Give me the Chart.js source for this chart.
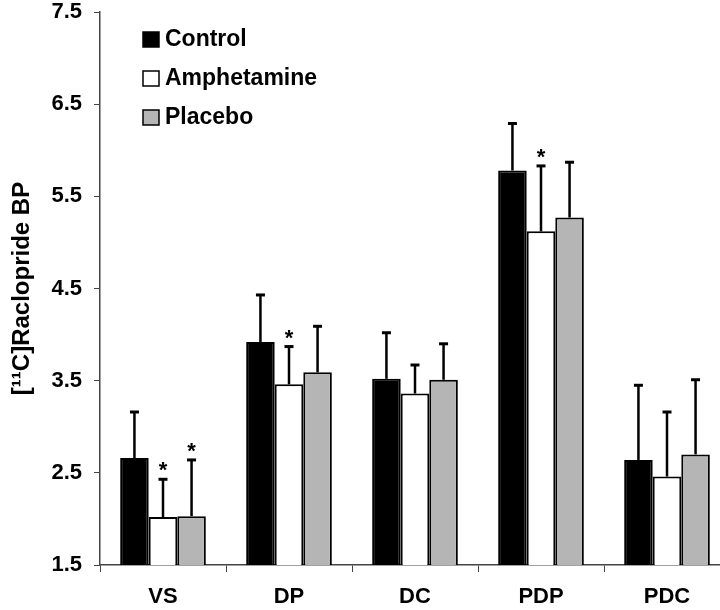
<!DOCTYPE html>
<html>
<head>
<meta charset="utf-8">
<script src="https://cdn.jsdelivr.net/npm/chart.js@4"></script>
<style>
  html, body { margin:0; padding:0; background:#fff; overflow:hidden; }
  #wrap { width:720px; height:610px; overflow:hidden; }
</style>
</head>
<body>
<div id="wrap"><canvas id="chart" width="730" height="610"></canvas></div>
<script>
// datos
const regions = ['VS', 'DP', 'DC', 'PDP', 'PDC'];
const control = [2.66, 3.92, 3.52, 5.78, 2.64];
const controlErr = [0.50, 0.51, 0.50, 0.51, 0.81];
const amphetamine = [2.02, 3.46, 3.36, 5.12, 2.46];
const amphetamineErr = [0.41, 0.41, 0.31, 0.71, 0.70];
const placebo = [2.03, 3.59, 3.51, 5.27, 2.70];
const placeboErr = [0.61, 0.50, 0.39, 0.60, 0.81];
// asteriscos (p < 0.05)
const amphetamineSig = [true, true, false, true, false];
const placeboSig = [true, false, false, false, false];
const yTicks = [1.5, 2.5, 3.5, 4.5, 5.5, 6.5, 7.5];

const FONT = 'Arial, "Liberation Sans", sans-serif';

// error bars + asterisks + legend
const extras = {
  id: 'extras',
  afterDatasetsDraw(chart) {
    const ctx = chart.ctx;
    const y = chart.scales.y;
    ctx.save();
    chart.data.datasets.forEach((ds, di) => {
      const meta = chart.getDatasetMeta(di);
      meta.data.forEach((bar, i) => {
        const top = y.getPixelForValue(ds.data[i] + ds.err[i]);
        ctx.strokeStyle = '#000';
        ctx.lineWidth = 2.5;
        ctx.beginPath();
        ctx.moveTo(bar.x, bar.y);
        ctx.lineTo(bar.x, top);
        ctx.stroke();
        ctx.lineWidth = 3;
        ctx.beginPath();
        ctx.moveTo(bar.x - 4.5, top);
        ctx.lineTo(bar.x + 4.5, top);
        ctx.stroke();
        if (ds.sig && ds.sig[i]) {
          ctx.fillStyle = '#000';
          ctx.font = 'bold 22px ' + FONT;
          ctx.textAlign = 'center';
          ctx.textBaseline = 'alphabetic';
          ctx.fillText('*', bar.x, top - 2);
        }
      });
    });

    // legend
    const area = chart.chartArea;
    const lx = area.left + 43, ly = area.top + 20;
    chart.data.datasets.forEach((ds, di) => {
      const cy = ly + di * 39;
      ctx.fillStyle = ds.backgroundColor;
      ctx.fillRect(lx, cy, 16, 15);
      ctx.strokeStyle = '#000';
      ctx.lineWidth = 1.5;
      ctx.strokeRect(lx, cy, 16, 15);
      ctx.fillStyle = '#000';
      ctx.font = 'bold 23px ' + FONT;
      ctx.textAlign = 'left';
      ctx.textBaseline = 'middle';
      ctx.fillText(ds.label, lx + 22, cy + 8);
    });
    ctx.restore();
  }
};

new Chart(document.getElementById('chart'), {
  type: 'bar',
  data: {
    labels: regions,
    datasets: [
      { label: 'Control', data: control, err: controlErr, backgroundColor: '#000000' },
      { label: 'Amphetamine', data: amphetamine, err: amphetamineErr, sig: amphetamineSig, backgroundColor: '#ffffff' },
      { label: 'Placebo', data: placebo, err: placeboErr, sig: placeboSig, backgroundColor: '#b5b5b5' }
    ].map(d => Object.assign(d, {
      borderColor: '#000', borderWidth: 2, borderSkipped: 'bottom',
      categoryPercentage: 0.68, barPercentage: 1.0
    }))
  },
  options: {
    responsive: false,
    animation: false,
    layout: { padding: { top: 12, right: 0, left: 0, bottom: 0 } },
    plugins: { legend: { display: false }, tooltip: { enabled: false } },
    scales: {
      x: {
        grid: { drawOnChartArea: false, drawTicks: true, tickLength: 7, color: '#444', offset: true },
        border: { color: '#444', width: 1.5 },
        ticks: { color: '#000', font: { family: FONT, size: 22, weight: 'bold' }, padding: 12 },
        afterFit(s) { s.height = 45; }
      },
      y: {
        min: 1.5, max: 7.5,
        afterBuildTicks(s) { s.ticks = yTicks.map(v => ({ value: v })); },
        grid: { drawOnChartArea: false, drawTicks: true, tickLength: 6, color: '#444' },
        border: { color: '#444', width: 1.5 },
        ticks: {
          color: '#000', padding: 12,
          font: { family: FONT, size: 22, weight: 'bold' },
          callback: v => v.toFixed(1)
        },
        title: {
          display: true, text: '[¹¹C]Raclopride BP', color: '#000',
          font: { family: FONT, size: 24, weight: 'bold' }, padding: { top: 8, bottom: 0 }
        },
        afterFit(s) { s.width = 100; s.paddingTop = 0; s.paddingBottom = 0; }
      }
    }
  },
  plugins: [extras]
});
</script>
</body>
</html>
